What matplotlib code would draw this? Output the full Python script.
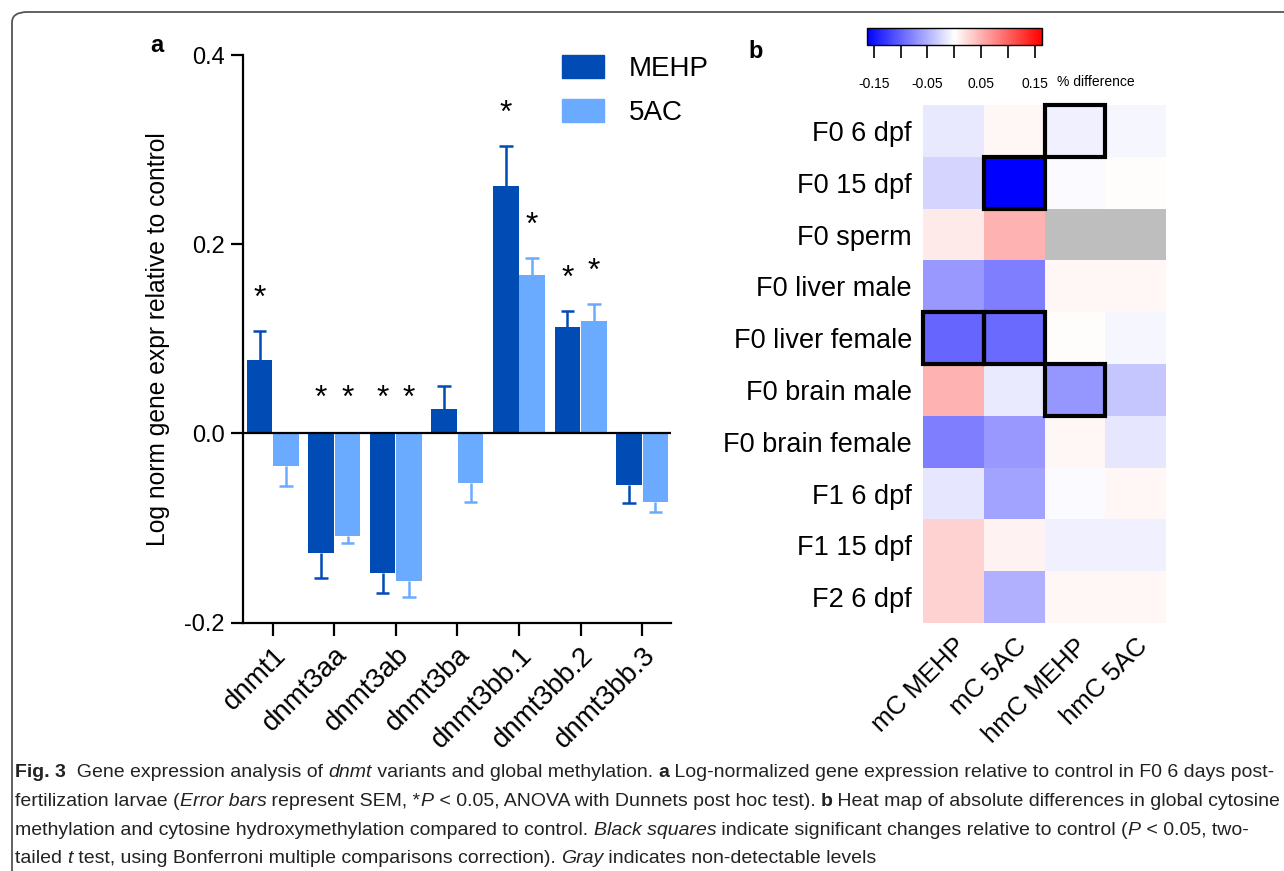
import numpy as np
import matplotlib
matplotlib.use("Agg")
import matplotlib.pyplot as plt
from matplotlib.patches import Rectangle, FancyBboxPatch

# ---- panel a data ----
genes = ["dnmt1", "dnmt3aa", "dnmt3ab", "dnmt3ba", "dnmt3bb.1", "dnmt3bb.2", "dnmt3bb.3"]
mehp = [0.078, -0.126, -0.148, 0.026, 0.262, 0.112, -0.054]
mehp_sem = [0.030, 0.027, 0.021, 0.024, 0.042, 0.017, 0.020]
ac5 = [-0.034, -0.108, -0.156, -0.052, 0.168, 0.119, -0.072]
ac5_sem = [0.022, 0.008, 0.017, 0.020, 0.017, 0.018, 0.011]
mehp_sig = [True, True, True, False, True, True, False]
ac5_sig = [False, True, True, False, True, True, False]

# ---- panel b data ----
samples = ["F0 6 dpf", "F0 15 dpf", "F0 sperm", "F0 liver male", "F0 liver female",
           "F0 brain male", "F0 brain female", "F1 6 dpf", "F1 15 dpf", "F2 6 dpf"]
marks = ["mC MEHP", "mC 5AC", "hmC MEHP", "hmC 5AC"]
mc_mehp = [-0.015, -0.028, 0.013, -0.065, -0.098, 0.049, -0.082, -0.016, 0.029, 0.029]
mc_5ac = [0.006, -0.170, 0.049, -0.082, -0.095, -0.013, -0.065, -0.059, 0.008, -0.050]
hmc_mehp = [-0.010, -0.003, np.nan, 0.006, 0.002, -0.067, 0.006, -0.003, -0.010, 0.006]
hmc_5ac = [-0.006, 0.002, np.nan, 0.006, -0.006, -0.036, -0.016, 0.006, -0.010, 0.006]
sig_cells = [(0, 2), (1, 1), (4, 0), (4, 1), (5, 2)]  # (row, col)

W, H = 1284, 871
DARK = "#004bb4"
LIGHT = "#6aaaff"
plt.rcParams["font.family"] = ["Liberation Sans", "DejaVu Sans"]


def px(x0, y0, x1, y1):
    return [x0 / W, 1 - y1 / H, (x1 - x0) / W, (y1 - y0) / H]


fig = plt.figure(figsize=(W / 100, H / 100), dpi=100)

# ---------------- panel a ----------------
ax = fig.add_axes(px(242.6, 55, 671, 622.7))
x = np.arange(len(genes))
bw = 0.415
off = 0.215
for vals, sems, col, dx in [(mehp, mehp_sem, DARK, -off), (ac5, ac5_sem, LIGHT, off)]:
    vals = np.array(vals)
    sems = np.array(sems)
    ends = np.where(vals < 0, vals - sems, vals + sems)
    ax.bar(x + dx, vals, width=bw, color=col, zorder=2)
    ax.vlines(x + dx, vals, ends, color=col, lw=1.8, zorder=1)
    ax.hlines(ends, x + dx - 0.11, x + dx + 0.11, color=col, lw=1.8, zorder=1)

for vals, sems, sig, dx in [(mehp, mehp_sem, mehp_sig, -off), (ac5, ac5_sem, ac5_sig, off)]:
    for i in range(len(genes)):
        if not sig[i]:
            continue
        y = vals[i] + sems[i] + 0.034 if vals[i] > 0 else 0.036
        ax.text(i + dx, y, "*", ha="center", va="center", fontsize=23)

ax.axhline(0, color="black", lw=1.6, zorder=3)
ax.set_xlim(-0.49, 6.47)
ax.set_ylim(-0.2, 0.4)
ax.set_yticks([-0.2, 0.0, 0.2, 0.4])
ax.set_yticklabels(["-0.2", "0.0", "0.2", "0.4"])
ax.set_xticks(x)
ax.set_xticklabels(genes, rotation=45, ha="right", rotation_mode="anchor")
ax.spines["top"].set_visible(False)
ax.spines["right"].set_visible(False)
for s in ["left", "bottom"]:
    ax.spines[s].set_linewidth(1.6)
ax.tick_params(axis="y", labelsize=17, length=9, width=1.6, pad=4)
ax.tick_params(axis="x", labelsize=20, length=9, width=1.6, pad=5)
ax.set_ylabel("Log norm gene expr relative to control", fontsize=17.7, labelpad=10)

handles = [Rectangle((0, 0), 1, 1, color=DARK), Rectangle((0, 0), 1, 1, color=LIGHT)]
fig.legend(handles, ["MEHP", "5AC"], loc="upper left", bbox_to_anchor=(562 / W, 1 - 55 / H),
           frameon=False, fontsize=20, handlelength=1.5, handleheight=0.9,
           handletextpad=0.9, labelspacing=0.6, borderpad=0, borderaxespad=0)

fig.text(150 / W, 1 - 45 / H, "a", fontsize=17, fontweight="bold", va="center")
fig.text(748 / W, 1 - 52 / H, "b", fontsize=17, fontweight="bold", va="center")

# ---------------- panel b ----------------
data = np.column_stack([mc_mehp, mc_5ac, hmc_mehp, hmc_5ac])
cmap = plt.get_cmap("bwr").copy()
cmap.set_bad("#bebebe")
vmax = 0.163
hx = fig.add_axes(px(923, 105, 1166, 623))
mesh = hx.pcolormesh(np.ma.masked_invalid(data), cmap=cmap, vmin=-vmax, vmax=vmax)
hx.set_xlim(0, len(marks))
hx.set_ylim(len(samples), 0)
hx.set_yticks(np.arange(len(samples)) + 0.5)
hx.set_yticklabels(samples, fontsize=19.5)
hx.set_xticks(np.arange(len(marks)) + 0.5)
hx.set_xticklabels(marks, rotation=45, ha="right", rotation_mode="anchor", fontsize=18.5)
hx.tick_params(length=0, pad=8)
for s in hx.spines.values():
    s.set_visible(False)
for r, c in sig_cells:
    hx.add_patch(Rectangle((c, r), 1, 1, fill=False, edgecolor="black", lw=3, zorder=5,
                           clip_on=False))

cax = fig.add_axes(px(866.7, 28.3, 1042, 45))
cb = fig.colorbar(mesh, cax=cax, orientation="horizontal")
cb.set_ticks([-0.15, -0.10, -0.05, 0.0, 0.05, 0.10, 0.15])
cb.set_ticklabels(["-0.15", "", "-0.05", "", "0.05", "", "0.15"])
cb.outline.set_linewidth(1.0)
cax.tick_params(labelsize=10, length=9, width=1.2, pad=14)
fig.text(1057 / W, 1 - 82 / H, "% difference", fontsize=10, va="center")

# ---------------- border ----------------
border = FancyBboxPatch((12 / W, -0.05), 1.2, 1 - 12 / H + 0.05,
                        boxstyle="round,pad=0,rounding_size=0.012",
                        transform=fig.transFigure, fill=False, edgecolor="#555555",
                        lw=1.3, clip_on=False)
fig.patches.append(border)

# ---------------- caption ----------------
caption = [
    [("Fig. 3", "b"), ("  Gene expression analysis of ", "n"), ("dnmt", "i"),
     (" variants and global methylation. ", "n"), ("a", "b"),
     (" Log-normalized gene expression relative to control in F0 6 days post-", "n")],
    [("fertilization larvae (", "n"), ("Error bars", "i"), (" represent SEM, *", "n"), ("P", "i"),
     (" < 0.05, ANOVA with Dunnets post hoc test). ", "n"), ("b", "b"),
     (" Heat map of absolute differences in global cytosine", "n")],
    [("methylation and cytosine hydroxymethylation compared to control. ", "n"),
     ("Black squares", "i"), (" indicate significant changes relative to control (", "n"),
     ("P", "i"), (" < 0.05, two-", "n")],
    [("tailed ", "n"), ("t", "i"), (" test, using Bonferroni multiple comparisons correction). ", "n"),
     ("Gray", "i"), (" indicates non-detectable levels", "n")],
]
cap_size = 14.0
renderer = fig.canvas.get_renderer()


def seg_width(s, kw):
    t1 = fig.text(0, 0, "|" + s + "|", **kw)
    t2 = fig.text(0, 0, "||", **kw)
    w = t1.get_window_extent(renderer).width - t2.get_window_extent(renderer).width
    t1.remove()
    t2.remove()
    return w


line_y = [772, 801, 830, 858]
for segs, yy in zip(caption, line_y):
    xx = 15
    for s, st in segs:
        kw = dict(fontsize=cap_size, va="center", color="#222222")
        if st == "b":
            kw["fontweight"] = "bold"
        if st == "i":
            kw["fontstyle"] = "italic"
        fig.text(xx / W, 1 - yy / H, s, **kw)
        xx += seg_width(s, kw)

fig.savefig("out.png", dpi=100)
